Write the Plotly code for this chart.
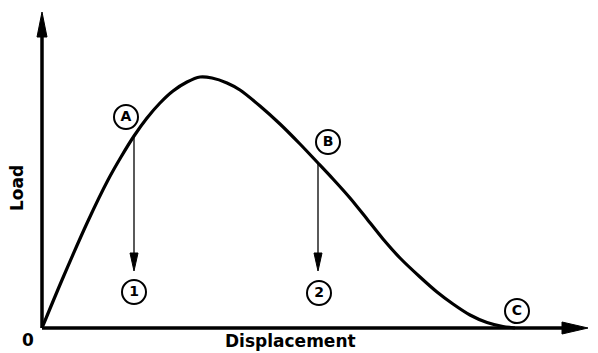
import plotly.graph_objects as go

## Data (schematic load-displacement curve, arbitrary units)
disp = [0, 20, 46, 66, 79, 92, 105, 118, 131, 145, 158, 170, 185, 198, 218, 238,
        258, 276, 291, 308, 325, 341, 358, 378, 395, 411, 428, 445, 461, 473]
load = [0, 48, 107, 148, 171, 192, 210, 225, 237, 246, 251, 250, 245, 238, 222, 204,
        184, 165, 149, 130, 109, 89, 70, 51, 36, 24, 13, 5.5, 1.5, 0]

# unloading points on the curve and where they drop to
unload_x = [92, 276]
unload_y = [192, 165]
drop_y = 57

# circled labels
label_text = ['A', 'B', 'C', '1', '2']
label_x = [84, 286, 475, 92, 277]
label_y = [211, 186, 17, 36, 35]

x_max = 546
y_max = 316

# axis ranges (1 unit = 1 px)
X_RANGE = [-10, 548]
Y_RANGE = [-8, 318]

FONT = 'DejaVu Sans'


def px(x):
    return (x - X_RANGE[0]) / (X_RANGE[1] - X_RANGE[0])


def py(y):
    return (y - Y_RANGE[0]) / (Y_RANGE[1] - Y_RANGE[0])


fig = go.Figure()

fig.add_trace(go.Scatter(x=disp, y=load, mode='lines',
                         line=dict(color='black', width=3.2, shape='spline', smoothing=0.8),
                         hoverinfo='skip'))

fig.add_trace(go.Scatter(x=label_x, y=label_y, mode='markers+text', text=label_text,
                         textposition='middle center',
                         textfont=dict(family=FONT, size=14, color='black', weight='bold'),
                         marker=dict(symbol='circle-open', size=24, color='black',
                                     line=dict(width=2, color='black')),
                         hoverinfo='skip'))

shapes = []
# axes
shapes.append(dict(type='line', x0=0, y0=0, x1=0, y1=y_max - 20,
                   line=dict(color='black', width=3.5)))
shapes.append(dict(type='path', path=f'M -5,{y_max-25} L 0,{y_max} L 5,{y_max-25} Z',
                   fillcolor='black', line=dict(color='black', width=1)))
shapes.append(dict(type='line', x0=0, y0=0, x1=x_max - 20, y1=0,
                   line=dict(color='black', width=3.5)))
shapes.append(dict(type='path', path=f'M {x_max-26},-6 L {x_max},0 L {x_max-26},6 Z',
                   fillcolor='black', line=dict(color='black', width=1)))

# unloading arrows
for ux, uy in zip(unload_x, unload_y):
    shapes.append(dict(type='line', x0=ux, y0=uy, x1=ux, y1=drop_y + 10,
                       line=dict(color='black', width=1.3)))
    shapes.append(dict(type='path', path=f'M {ux-4},{drop_y+18} L {ux},{drop_y} L {ux+4},{drop_y+18} Z',
                       fillcolor='black', line=dict(color='black', width=1)))

# page has an 8px body margin, so the figure is 8px smaller on each side
fig.update_layout(
    width=590, height=345,
    margin=dict(l=24, r=8, t=2, b=17),
    plot_bgcolor='white', paper_bgcolor='white',
    showlegend=False,
    shapes=shapes,
    xaxis=dict(range=X_RANGE, visible=False, fixedrange=True),
    yaxis=dict(range=Y_RANGE, visible=False, fixedrange=True),
    annotations=[
        dict(x=px(248), y=py(-13), xref='paper', yref='paper', text='Displacement',
             showarrow=False, xanchor='center', yanchor='middle',
             font=dict(family=FONT, size=17, color='black', weight='bold')),
        dict(x=px(-25), y=py(140), xref='paper', yref='paper', text='Load', textangle=-90,
             showarrow=False, xanchor='center', yanchor='middle',
             font=dict(family=FONT, size=17, color='black', weight='bold')),
        dict(x=px(-14), y=py(-12), xref='paper', yref='paper', text='0',
             showarrow=False, xanchor='center', yanchor='middle',
             font=dict(family=FONT, size=17, color='black', weight='bold')),
    ],
)

fig.write_html('out.html')
